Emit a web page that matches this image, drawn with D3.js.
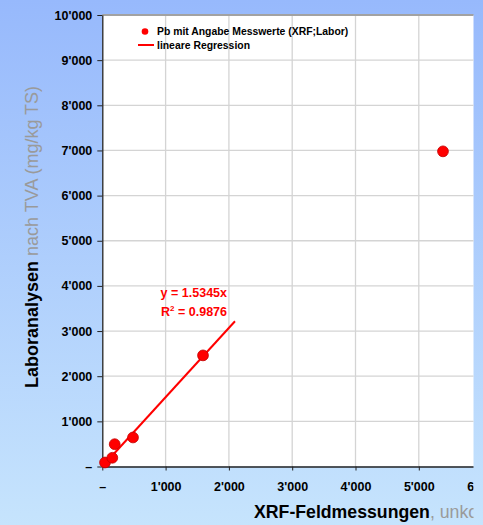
<!DOCTYPE html>
<html><head><meta charset="utf-8">
<script src="https://cdn.jsdelivr.net/npm/d3@7"></script>
<style>
html,body{margin:0;padding:0;overflow:hidden;background:#c4e2fd;}
text{font-family:"Liberation Sans",Arial,sans-serif;}
</style></head>
<body>
<svg id="chart" width="483" height="525"></svg>
<script>
// Data
const xrfValues = [43, 158, 196, 485, 1591, 5382];
const labValues = [89, 193, 494, 643, 2461, 6980];
const regressionSlope = 1.5345;
const regressionRange = [0, 2096];
const xTickValues = [0, 1000, 2000, 3000, 4000, 5000, 6000];
const yTickValues = [0, 1000, 2000, 3000, 4000, 5000, 6000, 7000, 8000, 9000, 10000];
const legendLabels = ["Pb mit Angabe Messwerte (XRF;Labor)", "lineare Regression"];
const equationLabels = ["y = 1.5345x", "R² = 0.9876"];

const svg = d3.select("#chart");
const defs = svg.append("defs");
const grad = defs.append("linearGradient").attr("id","bg").attr("x1",0).attr("y1",0).attr("x2",0).attr("y2",1);
grad.append("stop").attr("offset","0%").attr("stop-color","#97b9fc");
grad.append("stop").attr("offset","100%").attr("stop-color","#c6e4fd");
defs.append("clipPath").attr("id","view").append("rect").attr("x",0).attr("y",0).attr("width",473.5).attr("height",525);
svg.append("rect").attr("width",483).attr("height",525).attr("fill","url(#bg)");

const root = svg.append("g").attr("clip-path","url(#view)");

const x = d3.scaleLinear().domain([0, 6000]).range([102.3, 482.1]);
const y = d3.scaleLinear().domain([0, 10000]).range([466.5, 15]);
const plotRight = 482.1;

// plot area
root.append("rect").attr("x", x(0)).attr("y", y(10000)).attr("width", plotRight - x(0)).attr("height", y(0) - y(10000)).attr("fill", "#ffffff");

// grid
const g = root.append("g");
g.selectAll(".hg").data(yTickValues.filter(d => d > 0 && d < 10000)).join("line")
  .attr("x1", x(0)).attr("x2", plotRight).attr("y1", d => y(d)).attr("y2", d => y(d))
  .attr("stroke", "#d4d4d4").attr("stroke-width", 1.3);
g.selectAll(".vg").data(xTickValues.filter(d => d > 0 && d < 6000)).join("line")
  .attr("y1", y(0)).attr("y2", y(10000)).attr("x1", d => x(d)).attr("x2", d => x(d))
  .attr("stroke", "#d4d4d4").attr("stroke-width", 1.3);

// top border
root.append("line").attr("x1", x(0)).attr("x2", plotRight).attr("y1", y(10000)).attr("y2", y(10000)).attr("stroke", "#a2a2a2").attr("stroke-width", 2);

const fmt = d => d === 0 ? "–" : d3.format(",")(d).replace(/,/g, "'");

const yAxis = root.append("g").attr("transform", `translate(${x(0)},0)`)
  .call(d3.axisLeft(y).tickValues(yTickValues).tickFormat(fmt).tickSize(5).tickPadding(5).tickSizeOuter(0));
yAxis.select(".domain").attr("stroke", "#222").attr("stroke-width", 1.3);
yAxis.selectAll(".tick line").attr("stroke", "#222");
yAxis.selectAll("text").attr("font-size", "12.5px").attr("font-weight", "bold").attr("fill", "#000");

const xAxis = root.append("g").attr("transform", `translate(0,${y(0)})`)
  .call(d3.axisBottom(x).tickValues(xTickValues).tickFormat(fmt).tickSize(4).tickPadding(12).tickSizeOuter(0));
xAxis.select(".domain").attr("stroke", "#222").attr("stroke-width", 1.3);
xAxis.selectAll(".tick line").attr("stroke", "#222");
xAxis.selectAll("text").attr("font-size", "12.5px").attr("font-weight", "bold").attr("fill", "#000");

// regression line
root.append("line")
  .attr("x1", x(regressionRange[0])).attr("y1", y(regressionRange[0] * regressionSlope))
  .attr("x2", x(regressionRange[1])).attr("y2", y(regressionRange[1] * regressionSlope))
  .attr("stroke", "#ff0000").attr("stroke-width", 2);

// points
root.selectAll(".pt").data(xrfValues.map((v, i) => [v, labValues[i]])).join("circle")
  .attr("cx", d => x(d[0])).attr("cy", d => y(d[1])).attr("r", 5.4)
  .attr("fill", "#ff0000").attr("stroke", "#c00000").attr("stroke-width", 0.8);

// equation
const eq = root.append("g").attr("fill", "#ff0000").attr("font-weight", "bold").attr("font-size", "12.5px").attr("text-anchor", "end");
eq.append("text").attr("x", 227).attr("y", 297).text(equationLabels[0]);
const r2 = eq.append("text").attr("x", 227).attr("y", 316);
r2.append("tspan").text("R");
r2.append("tspan").attr("font-size", "8px").attr("dy", -5).text("2");
r2.append("tspan").attr("dy", 5).text(" = 0.9876");

// legend
const lg = root.append("g").attr("font-size", "10.4px").attr("font-weight", "bold").attr("fill", "#000");
lg.append("circle").attr("cx", 145).attr("cy", 31.5).attr("r", 3.3).attr("fill", "#ff0000");
lg.append("text").attr("x", 157).attr("y", 35).text(legendLabels[0]);
lg.append("line").attr("x1", 138).attr("x2", 154).attr("y1", 45).attr("y2", 45).attr("stroke", "#ff0000").attr("stroke-width", 2);
lg.append("text").attr("x", 157).attr("y", 48.5).text(legendLabels[1]);

// axis titles
const yt = root.append("text").attr("transform", "translate(38,388) rotate(-90)").attr("font-size", "18px");
yt.append("tspan").attr("font-weight", "bold").attr("fill", "#000").text("Laboranalysen");
yt.append("tspan").attr("fill", "#9a9a9a").text(" nach TVA (mg/kg TS)");

const xt = root.append("text").attr("x", 254).attr("y", 518).attr("font-size", "17.7px");
xt.append("tspan").attr("font-weight", "bold").attr("fill", "#000").text("XRF-Feldmessungen");
xt.append("tspan").attr("fill", "#9a9a9a").text(", unkorrigiert");
</script>
</body></html>
